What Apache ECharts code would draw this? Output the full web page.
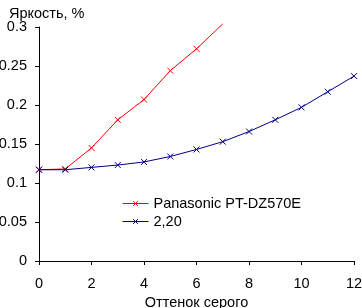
<!DOCTYPE html>
<html>
<head>
<meta charset="utf-8">
<script src="https://cdn.jsdelivr.net/npm/echarts@6/dist/echarts.min.js"></script>
<style>
  html, body { margin: 0; padding: 0; background: #fff; }
  #chart { width: 362px; height: 308px; }
</style>
</head>
<body>
<div id="chart"></div>
<script>
var shades = [0, 1, 2, 3, 4, 5, 6, 7, 8, 9, 10, 11, 12]
var panasonic = [0.117, 0.118, 0.145, 0.181, 0.207, 0.244, 0.272, 0.304]
var gamma220 = [0.117, 0.117, 0.12, 0.123, 0.127, 0.134, 0.143, 0.153, 0.166, 0.181, 0.197, 0.217, 0.237]
var names = ['Panasonic PT-DZ570E', '2,20']
var yMax = 0.3

var font = 'Liberation Sans, Arial, sans-serif'
var fs = 14.5
var cross = 'path://M0,0L10,10M10,0L0,10'

// points above the axis top keep the line but lose the marker (as in the source)
function pairs(vals) {
  return vals.map(function(v, i) {
    var item = { value: [shades[i], v] }
    if (v > yMax) item.symbol = 'none'
    return item
  })
}

function makeSeries(name, vals, color) {
  return {
    name: name,
    type: 'line',
    data: pairs(vals),
    clip: false,
    symbol: cross,
    symbolSize: 6,
    color: color,
    lineStyle: { color: color, width: 1 },
    itemStyle: { color: 'none', borderColor: color, borderWidth: 1 },
    emphasis: { disabled: true }
  }
}

var chart = echarts.init(document.getElementById('chart'))
chart.setOption({
  animation: false,
  title: {
    text: 'Яркость, %',
    left: 4,
    top: 1,
    textStyle: { fontFamily: font, fontSize: fs, fontWeight: 'normal', color: '#000' }
  },
  legend: {
    orient: 'vertical',
    left: 117,
    top: 191,
    itemWidth: 26,
    itemHeight: 6,
    itemGap: 3,
    data: names,
    lineStyle: { width: 1 },
    itemStyle: { borderWidth: 1 },
    textStyle: { fontFamily: font, fontSize: fs, color: '#000' }
  },
  grid: { left: 39, right: 8, top: 27, bottom: 47, containLabel: false, outerBoundsMode: 'none' },
  xAxis: {
    type: 'value',
    min: 0,
    max: 12,
    interval: 2,
    name: 'Оттенок серого',
    nameLocation: 'middle',
    nameGap: 28,
    nameTextStyle: { fontFamily: font, fontSize: fs, color: '#000' },
    axisLine: { lineStyle: { color: '#000', width: 1 } },
    axisTick: { length: 4, lineStyle: { color: '#000' } },
    axisLabel: { fontFamily: font, fontSize: fs, color: '#000', margin: 15 },
    splitLine: { show: false }
  },
  yAxis: {
    type: 'value',
    min: 0,
    max: yMax,
    interval: 0.05,
    axisLine: { show: true, lineStyle: { color: '#000', width: 1 } },
    axisTick: { show: true, length: 4, lineStyle: { color: '#000' } },
    axisLabel: { fontFamily: font, fontSize: fs, color: '#000', margin: 12 },
    splitLine: { show: false }
  },
  series: [
    makeSeries(names[0], panasonic, '#ff0000'),
    makeSeries(names[1], gamma220, '#000080')
  ]
})
</script>
</body>
</html>
